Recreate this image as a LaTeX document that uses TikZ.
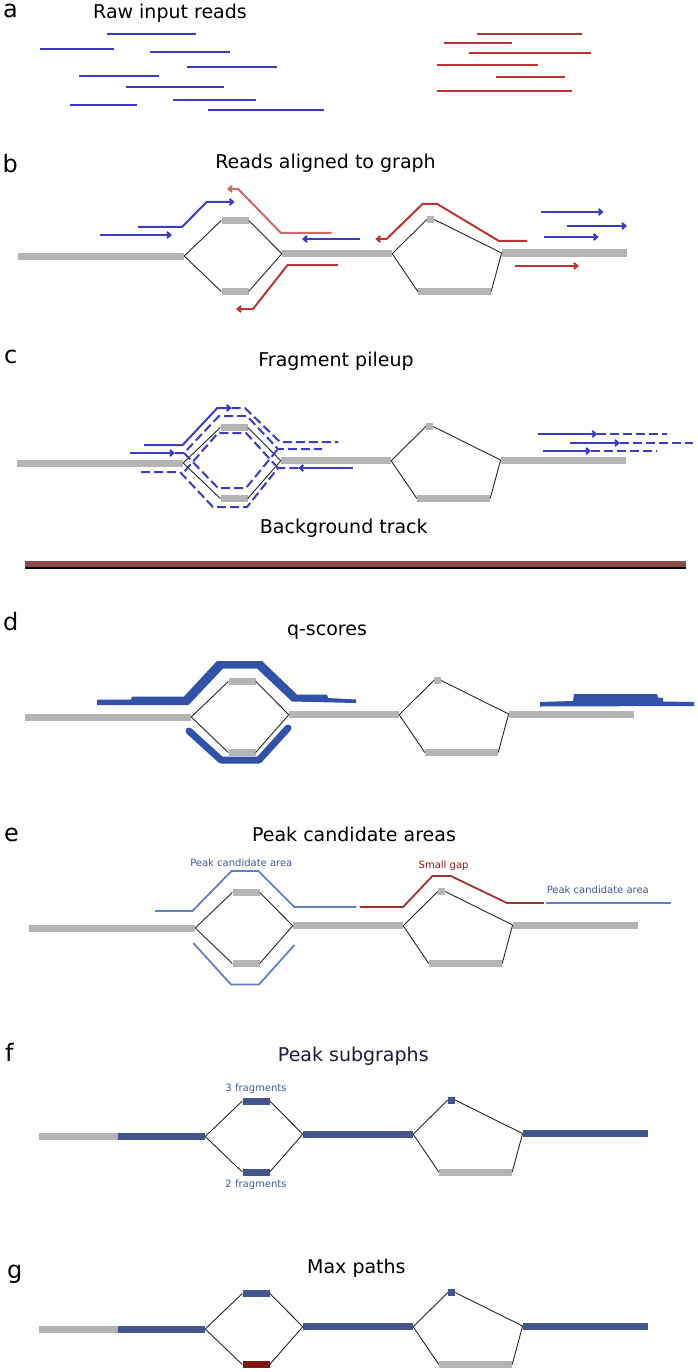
\documentclass[tikz,border=0pt]{standalone}
\usepackage{fontspec}
\setmainfont{DejaVu Sans}
\usetikzlibrary{arrows.meta,positioning}

\definecolor{readblue}{RGB}{60,60,190}
\definecolor{readred}{RGB}{188,52,52}
\definecolor{readpink}{RGB}{205,105,105}
\definecolor{readbrown}{RGB}{160,62,62}
\definecolor{segray}{RGB}{180,180,180}
\definecolor{qblue}{RGB}{50,82,168}
\definecolor{pkblue}{RGB}{100,128,196}
\definecolor{gapred}{RGB}{160,50,50}
\definecolor{lblblue}{RGB}{70,85,150}
\definecolor{lblred}{RGB}{150,20,20}
\definecolor{subblue}{RGB}{68,84,140}
\definecolor{maxred}{RGB}{128,20,20}
\definecolor{bgred}{RGB}{140,75,75}
\definecolor{navy}{RGB}{30,25,60}

\tikzset{
  seg/.style={rectangle,draw=none,inner sep=0,minimum height=7},
  link/.style={draw=black!85,line width=0.9},
  bread/.style={readblue,line width=2},
  bdash/.style={readblue,line width=2,dash pattern=on 9pt off 4pt},
  rread/.style={readred,line width=2},
  pkline/.style={line width=1.8},
  ttl/.style={font=\fontsize{19}{22}\selectfont,anchor=base,inner sep=0},
  plab/.style={font=\fontsize{24}{28}\selectfont,anchor=base west,inner sep=0},
  note/.style={font=\fontsize{10}{12}\selectfont,inner sep=2pt}
}

% sequence graph: #1 prefix, #2..#8 fill of L, T, B, M, S, B2, R
\newcommand{\seqgraph}[8]{%
  \node[seg,fill=#2,minimum width=166] (#1L) at (101,256) {};
  \node[seg,fill=#3,minimum width=27] (#1T) at (235,220.5) {};
  \node[seg,fill=#4,minimum width=27] (#1B) at (235,291.5) {};
  \node[seg,fill=#5,minimum width=110] (#1M) at (337,253.7) {};
  \node[seg,fill=#6,minimum width=7] (#1S) at (430.5,219.5) {};
  \node[seg,fill=#7,minimum width=73] (#1B2) at (454.5,291.5) {};
  \node[seg,fill=#8,minimum width=125] (#1R) at (564.3,253) {};
  \draw[link] (#1L.east) -- (#1T.west) (#1T.east) -- (#1M.west)
              (#1L.east) -- (#1B.west) (#1B.east) -- (#1M.west)
              (#1M.east) -- (#1S.west) (#1S.east) -- (#1R.west)
              (#1M.east) -- (#1B2.west) (#1B2.east) -- (#1R.west);
}

\begin{document}
\begin{tikzpicture}[x=1pt,y=-1pt,>={Straight Barb[length=3.5pt,width=6pt]}]
  \useasboundingbox (0,0) rectangle (698,1372);

  % a: raw reads
  \node[plab] (la) at (3,18) {a};
  \node[ttl] (ttla) at (170,18.3) {Raw input reads};
  \draw[bread] (106.5,34) -- (195.5,34);
  \draw[bread] (40,49) -- (113.7,49);
  \draw[bread] (149.7,52) -- (229.7,52);
  \draw[bread] (187,67) -- (277,67);
  \draw[bread] (78.6,76) -- (158.7,76);
  \draw[bread] (125.8,87) -- (223.8,87);
  \draw[bread] (173,100) -- (255.7,100);
  \draw[bread] (69.7,105) -- (137,105);
  \draw[bread] (207.6,110) -- (323.6,110);
  \draw[rread,readbrown] (477,34) -- (582,34);
  \draw[rread] (443.6,43) -- (512.4,43);
  \draw[rread] (468.8,53) -- (591,53);
  \draw[rread] (437.3,65) -- (537.5,65);
  \draw[rread] (496,77) -- (564.5,77);
  \draw[rread] (437.3,91) -- (571.7,91);

  % b: reads aligned to graph
  \node[plab] (lb) at (2.5,173) {b};
  \node[ttl] (ttlb) at (325.5,168.3) {Reads aligned to graph};
  \seqgraph{b}{segray}{segray}{segray}{segray}{segray}{segray}{segray}
  \draw[bread,->] (99.8,235) -- (172,235);
  \draw[bread,->] (138,227) -- (182,227) -- (206.7,202) -- (234.6,202);
  \draw[bread,->] (359.6,239) -- (302,239);
  \draw[bread,->] (540.7,212) -- (603.6,212);
  \draw[bread,->] (566.7,226) -- (627,226);
  \draw[bread,->] (544.3,237) -- (598.7,237);
  \draw[rread,readpink,->] (331.7,233) -- (281,233) -- (238.2,189) -- (227,189);
  \draw[rread,->] (338,265) -- (287.6,265) -- (253,309) -- (236,309);
  \draw[rread,->] (527.2,241) -- (498.9,241) -- (437.3,204) -- (422.5,204) -- (386.5,239) -- (375.3,239);
  \draw[rread,->] (514.6,266) -- (578.9,266);

  % c: fragment pileup
  \node[plab] (lc) at (4,363) {c};
  \node[ttl] (ttlc) at (336,366.7) {Fragment pileup};
  \begin{scope}[shift={(-1,207)}]
    \seqgraph{c}{segray}{segray}{segray}{segray}{segray}{segray}{segray}
  \end{scope}
  \draw[bread,->] (144,445) -- (182.7,445) -- (217.3,408) -- (231.7,408);
  \draw[bdash] (231.7,408) -- (245,408) -- (280,442) -- (338.3,442);
  \draw[bread,->] (130,453) -- (175,453);
  \draw[bdash] (175,453) -- (184,453) -- (219,416) -- (247,416) -- (278,449) -- (322,449);
  \draw[bdash] (184,453) -- (218,488) -- (246,488) -- (278,449);
  \draw[bread,->] (353.3,468) -- (298.3,468);
  \draw[bdash] (298.3,468) -- (278,468) -- (247,507) -- (213,507) -- (180,472) -- (140,472);
  \draw[bdash] (278,468) -- (246,433) -- (218,433) -- (184,472);
  \draw[bread,->] (538.3,434) -- (597.3,434);
  \draw[bdash] (597.3,434) -- (666.7,434);
  \draw[bread,->] (570,443) -- (620,443);
  \draw[bdash] (620,443) -- (692.7,443);
  \draw[bread,->] (543.3,451) -- (591,451);
  \draw[bdash] (591,451) -- (656.7,451);

  % background track
  \node[ttl] (ttlbg) at (343.8,533.3) {Background track};
  \fill[bgred] (25,561) rectangle (686,566.5);
  \draw[black,line width=1.3] (25,568) -- (686,568);

  % d: q-scores
  \node[plab] (ld) at (3,630) {d};
  \node[ttl] (ttld) at (327,635) {q-scores};
  \begin{scope}[shift={(7,461)}]
    \seqgraph{d}{segray}{segray}{segray}{segray}{segray}{segray}{segray}
  \end{scope}
  \fill[qblue] (97,699.5) -- (131,699.5) -- (132,696.5) -- (184,696.5) -- (217,661) -- (262,661)
    -- (297,694.5) -- (327,694.5) -- (328,698) -- (356,699.5) -- (356,703) -- (292,701.5)
    -- (257,668.5) -- (223,668.5) -- (188.5,705) -- (97,705) -- cycle;
  \draw[qblue,line width=7,line join=round,line cap=round] (189,731) -- (221,760) -- (259,760) -- (288,728);
  \fill[qblue] (540,702) -- (573,701) -- (574,694) -- (657,694) -- (658,697.5) -- (663,698)
    -- (663,701.5) -- (694,702) -- (694,706) -- (540,706.5) -- cycle;

  % e: peak candidate areas
  \node[plab] (le) at (4,841.7) {e};
  \node[ttl] (ttle) at (354,841) {Peak candidate areas};
  \begin{scope}[shift={(11,672)}]
    \seqgraph{e}{segray}{segray}{segray}{segray}{segray}{segray}{segray}
  \end{scope}
  \draw[pkline,pkblue] (155,911) -- (192.4,911) -- (231.5,871) -- (258.4,871) -- (294.4,907) -- (356.4,907);
  \draw[pkline,pkblue] (193.3,943) -- (231,984.5) -- (259,984.5) -- (294.4,945);
  \draw[pkline,gapred] (359.6,907) -- (403.1,907) -- (432.4,876) -- (450.8,876) -- (507,903) -- (543.8,903);
  \draw[pkline,pkblue] (546,903) -- (671,903);
  \node[note,text=lblblue] (pca1) at (241.3,862.7) {Peak candidate area};
  \node[note,text=lblred] (gap) at (443.6,866) {Small gap};
  \node[note,text=lblblue] (pca2) at (597.8,889.3) {Peak candidate area};

  % f: peak subgraphs
  \node[plab] (lf) at (5,1061.7) {f};
  \node[ttl,text=navy] (ttlf) at (353.3,1061) {Peak subgraphs};
  \begin{scope}[shift={(21,880.5)}]
    \seqgraph{f}{segray}{subblue}{subblue}{subblue}{subblue}{segray}{subblue}
    \node[seg,fill=subblue,minimum width=87,anchor=east] (fLb) at (fL.east) {};
  \end{scope}
  \node[note,text=lblblue,above=1.5pt of fT] (nf3) {3 fragments};
  \node[note,text=lblblue,below=1.5pt of fB] (nf2) {2 fragments};

  % g: max paths
  \node[plab] (lg) at (7,1278) {g};
  \node[ttl] (ttlg) at (356.4,1273) {Max paths};
  \begin{scope}[shift={(21,1073)}]
    \seqgraph{g}{segray}{subblue}{maxred}{subblue}{subblue}{segray}{subblue}
    \node[seg,fill=subblue,minimum width=87,anchor=east] (gLb) at (gL.east) {};
  \end{scope}
\end{tikzpicture}
\end{document}
